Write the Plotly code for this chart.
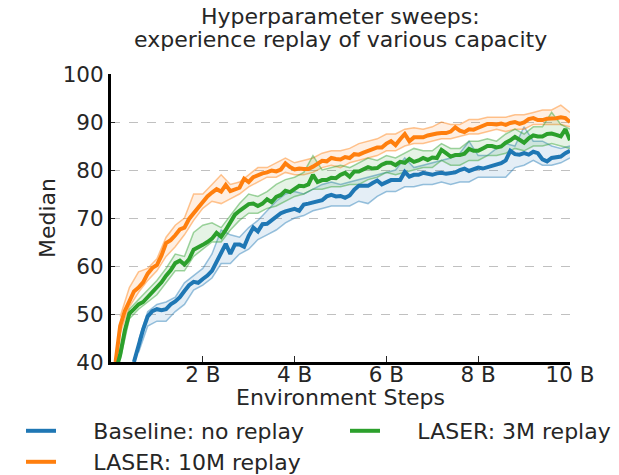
import plotly.graph_objects as go

# median curves, sampled every 0.1 B environment steps
steps_orange = [round(0.1 * i, 1) for i in range(1, 101)]
laser_10m = [
    40.0, 47.5, 50.6, 52.8, 54.7, 55.5, 56.6, 58.4, 59.6, 60.2,
    62.2, 64.8, 65.4, 66.4, 67.6, 68.0, 69.8, 71.0, 72.2, 73.5,
    74.5, 75.3, 76.0, 75.5, 76.9, 75.6, 75.9, 76.3, 78.2, 77.5,
    78.5, 79.0, 79.3, 79.5, 79.9, 79.7, 80.1, 81.4, 80.6, 80.1,
    80.3, 80.2, 80.2, 80.7, 81.3, 81.9, 81.8, 82.5, 82.3, 82.2,
    82.7, 82.5, 83.3, 83.2, 83.6, 84.0, 84.5, 84.7, 84.7, 85.5,
    86.0, 85.2, 86.4, 87.5, 86.0, 86.8, 86.8, 86.8, 87.2, 87.5,
    87.6, 87.7, 87.7, 88.0, 88.9, 88.2, 87.9, 88.5, 88.4, 88.8,
    89.2, 89.6, 89.6, 89.5, 89.7, 89.4, 89.8, 90.0, 89.6, 89.9,
    90.6, 90.8, 90.4, 90.4, 90.7, 90.7, 90.8, 91.0, 90.8, 90.0,
]

steps_blue = [round(0.1 * i, 1) for i in range(5, 101)]
baseline = [
    40.0, 43.7, 46.8, 49.5, 50.6, 51.0,
    50.8, 51.0, 52.0, 52.6, 53.5, 54.8, 56.0, 56.7, 56.5, 57.3,
    58.0, 59.0, 60.8, 62.5, 64.6, 62.5, 64.5, 64.5, 64.0, 66.3,
    68.0, 67.2, 68.7, 68.8, 69.5, 70.1, 71.0, 71.4, 71.6, 71.9,
    71.5, 72.8, 73.0, 73.3, 73.6, 73.7, 74.5, 74.8, 74.5, 74.6,
    74.2, 74.7, 75.9, 76.7, 76.7, 76.7, 77.3, 77.8, 77.0, 77.4,
    77.9, 77.9, 77.9, 79.6, 78.6, 79.0, 79.0, 79.4, 79.1, 79.0,
    79.3, 79.4, 79.2, 79.3, 79.5, 80.0, 80.3, 79.8, 80.2, 80.5,
    80.3, 80.6, 80.8, 81.3, 81.4, 82.0, 84.0, 83.3, 83.2, 83.5,
    83.2, 83.8, 83.5, 82.2, 81.8, 82.5, 82.6, 82.8, 83.5, 84.0,
]

steps_green = [round(0.1 * i, 1) for i in range(1, 101)]
laser_3m = [
    38.0, 41.5, 46.5, 50.1, 51.0, 52.0, 52.5, 53.5, 54.8, 55.5,
    56.6, 58.0, 59.1, 60.6, 61.1, 60.3, 61.4, 63.4, 63.8, 64.4,
    65.0, 65.7, 66.9, 66.1, 67.5, 69.1, 70.7, 71.5, 72.1, 72.9,
    73.0, 72.5, 73.0, 73.9, 73.3, 74.4, 74.8, 75.7, 75.4, 76.0,
    76.7, 76.6, 77.0, 79.0, 77.5, 77.9, 77.9, 78.4, 78.3, 79.0,
    79.4, 78.6, 79.7, 79.7, 80.2, 80.6, 80.3, 80.4, 81.1, 81.5,
    81.5, 81.0, 81.7, 81.5, 82.3, 81.7, 82.0, 82.5, 82.1, 82.6,
    82.5, 84.2, 83.5, 82.8, 83.1, 83.1, 83.4, 84.4, 84.0, 84.0,
    84.5, 85.0, 85.0, 84.7, 84.9, 85.7, 86.2, 86.9, 86.3, 85.7,
    86.6, 87.2, 87.0, 87.0, 87.5, 87.6, 87.3, 87.0, 88.5, 86.2,
]

# spread bands, sampled every 0.2 B
band_x = [round(0.2 * i, 1) for i in range(1, 51)]
orange_hi = [
    49.5, 55.5, 58.8, 59.5, 61.5, 66.0, 68.5, 70.0, 75.0, 75.0,
    77.0, 79.0, 77.0, 77.5, 79.0, 80.5, 80.5, 81.5, 82.5, 81.5,
    82.0, 82.5, 83.5, 84.0, 84.0, 84.5, 85.5, 86.0, 86.5, 87.5,
    87.5, 88.5, 88.8, 88.5, 89.0, 90.0, 89.5, 89.5, 90.5, 90.5,
    91.0, 91.0, 91.0, 91.5, 91.5, 92.0, 92.5, 92.5, 93.5, 92.0,
]
orange_lo = [
    46.0, 51.5, 54.5, 57.0, 59.0, 62.0, 64.0, 66.5, 69.5, 72.0,
    73.5, 73.0, 74.0, 75.0, 76.5, 77.5, 78.5, 78.5, 79.5, 79.0,
    79.0, 79.5, 80.5, 81.0, 80.5, 81.5, 82.0, 82.5, 83.0, 84.0,
    84.0, 85.0, 85.5, 85.5, 86.0, 86.5, 86.5, 87.0, 87.5, 87.5,
    88.0, 88.5, 88.0, 88.5, 88.5, 89.5, 89.5, 89.5, 89.5, 89.0,
]
blue_band_x = band_x[2:]
blue_hi = [
    44.5, 50.5, 52.0, 52.5, 53.5, 56.5, 58.0, 59.5,
    62.5, 67.5, 66.5, 66.0, 68.0, 69.5, 71.5, 73.5, 75.0, 75.5,
    75.0, 76.0, 77.0, 77.5, 77.0, 77.5, 78.0, 78.5, 79.0, 79.5,
    80.0, 82.5, 80.5, 81.0, 81.5, 82.0, 82.5, 83.5, 86.0, 83.0,
    83.0, 84.5, 85.5, 85.0, 89.0, 86.0, 86.0, 85.0, 84.5, 85.0,
]
blue_lo = [
    42.0, 47.5, 48.5, 48.5, 50.5, 52.0, 55.0, 56.0,
    57.5, 60.5, 60.5, 62.5, 63.5, 65.5, 66.5, 67.5, 69.0, 70.0,
    70.5, 71.5, 72.0, 72.5, 72.5, 72.5, 73.5, 73.0, 74.5, 75.5,
    75.5, 76.5, 76.5, 77.0, 77.0, 77.5, 77.0, 77.5, 77.5, 78.5,
    78.5, 78.5, 78.5, 80.5, 81.0, 82.0, 81.0, 81.0, 81.5, 82.5,
]
green_hi = [
    42.5, 51.0, 53.0, 55.0, 57.0, 59.5, 62.5, 62.0, 67.0, 68.5,
    69.0, 68.0, 70.5, 73.0, 75.0, 74.5, 75.5, 77.0, 78.0, 78.5,
    79.5, 83.0, 80.0, 80.5, 81.0, 80.5, 81.5, 82.5, 82.0, 83.0,
    82.5, 83.5, 84.5, 84.0, 84.0, 85.5, 84.5, 84.5, 86.0, 86.0,
    86.5, 86.0, 87.5, 88.5, 87.5, 89.0, 89.0, 92.0, 89.5, 88.5,
]
green_lo = [
    40.5, 49.0, 51.0, 52.5, 54.0, 56.5, 59.0, 59.0, 62.0, 63.5,
    65.0, 65.0, 67.5, 69.5, 71.0, 71.0, 72.0, 72.5, 73.5, 74.5,
    75.0, 76.0, 76.0, 76.5, 76.5, 77.0, 77.0, 78.0, 78.5, 79.5,
    79.0, 79.5, 80.0, 80.5, 80.5, 82.0, 81.0, 81.0, 82.0, 82.0,
    83.0, 83.0, 83.5, 84.5, 84.0, 85.0, 85.0, 85.5, 85.0, 84.5,
]

x_ticks = [2, 4, 6, 8, 10]
x_tick_text = ["2 B", "4 B", "6 B", "8 B", "10 B"]
title_lines = ["Hyperparameter sweeps:", "experience replay of various capacity"]

BLUE = (31, 119, 180)
ORANGE = (255, 127, 14)
GREEN = (44, 160, 44)
TEXT = "#262626"
PAD = "\u00a0" * 4 + "\u2009"  # gap between legend line and its label

W, H = 619, 475
L, R, T, B = 111, 570, 74, 362  # plot area in pixels
PW, PH = R - L, B - T


def rgba(c, a):
    return f"rgba({c[0]},{c[1]},{c[2]},{a})"


series = [
    # name, colour, median x, median y, band x, lo, hi, legend, legend pos (px)
    ("Baseline: no replay", BLUE, steps_blue, baseline, blue_band_x, blue_lo, blue_hi,
     "legend", (21, 431)),
    ("LASER: 10M replay", ORANGE, steps_orange, laser_10m, band_x, orange_lo, orange_hi,
     "legend2", (21, 462)),
    ("LASER: 3M replay", GREEN, steps_green, laser_3m, band_x, green_lo, green_hi,
     "legend3", (345, 431)),
]

fig = go.Figure()

for name, c, mx, my, bx, lo, hi, leg, pos in series:
    fig.add_trace(go.Scatter(
        x=bx, y=lo, mode="lines", showlegend=False, hoverinfo="skip",
        line=dict(color=rgba(c, 0.45), width=1.5),
    ))
    fig.add_trace(go.Scatter(
        x=bx, y=hi, mode="lines", showlegend=False, hoverinfo="skip",
        fill="tonexty", fillcolor=rgba(c, 0.12),
        line=dict(color=rgba(c, 0.45), width=1.5),
    ))

legends = {}
for name, c, mx, my, bx, lo, hi, leg, pos in series:
    fig.add_trace(go.Scatter(
        x=mx, y=my, mode="lines", name=PAD + name, legend=leg,
        line=dict(color=rgba(c, 1), width=4),
    ))
    legends[leg] = dict(
        orientation="h",
        xref="container", x=pos[0] / W, xanchor="left",
        yref="container", y=1 - pos[1] / H, yanchor="middle",
        font=dict(size=22, color=TEXT), bgcolor="rgba(0,0,0,0)",
    )

fig.update_layout(
    width=W, height=H,
    margin=dict(l=L, r=W - R, t=T, b=H - B),
    paper_bgcolor="white", plot_bgcolor="white",
    font=dict(family="DejaVu Sans", color=TEXT, size=22),
    **legends,
)

for i, line in enumerate(title_lines):
    fig.add_annotation(
        text=line, xref="paper", yref="paper", x=0.5, xanchor="center",
        y=1 + (T - 16 - 23 * i) / PH, yanchor="middle", showarrow=False,
        font=dict(size=22, color=TEXT),
    )

fig.update_xaxes(
    range=[0, 10], tickvals=x_ticks, ticktext=x_tick_text,
    showgrid=False, zeroline=False, automargin=False,
    showline=True, linecolor="black", linewidth=3,
    ticks="inside", ticklen=6, tickcolor=TEXT, tickwidth=1,
    ticklabelstandoff=-9,
    tickfont=dict(size=21.5, color=TEXT),
    title=dict(text="Environment Steps", font=dict(size=22, color=TEXT), standoff=8),
)
fig.update_yaxes(
    range=[40, 100], tickvals=[40, 50, 60, 70, 80, 90, 100],
    showgrid=True, gridcolor="#c0c0c0", griddash="dash", gridwidth=1,
    zeroline=False, automargin=False,
    showline=True, linecolor="black", linewidth=3,
    ticks="inside", ticklen=4, tickcolor=TEXT, tickwidth=1,
    tickfont=dict(size=21.5, color=TEXT),
    title=dict(text="Median", font=dict(size=22, color=TEXT), standoff=1),
)

# drop the browser's default 8px body margin so the figure sits at the page origin
fig.write_html(
    "out.html",
    config={"displayModeBar": False},
    post_script="document.body.style.margin = '0';",
)
